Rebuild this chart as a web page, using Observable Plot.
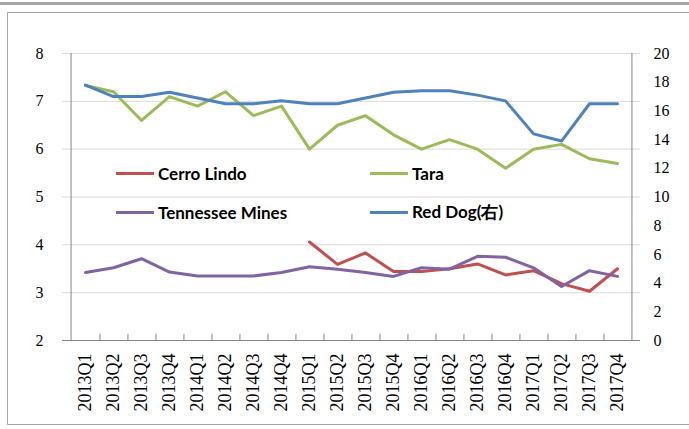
<!DOCTYPE html>
<html>
<head>
<meta charset="utf-8">
<script src="https://cdn.jsdelivr.net/npm/d3@7"></script>
<script src="https://cdn.jsdelivr.net/npm/@observablehq/plot@0.6"></script>
<style>
  body { margin: 0; background: #fff; }
  #wrap { position: relative; width: 689px; height: 429px; overflow: hidden; background: #fff; }
  #topbar { position: absolute; left: 0; top: 2px; width: 689px; height: 3px; background: #a6a6a6; }
  #box { position: absolute; left: 7px; top: 12px; width: 700px; height: 411px; border: 1px solid #a6a6a6; }
  #chart { position: absolute; left: 0; top: 0; }
  #chart svg, #chart svg g, #chart svg text { font-family: "Liberation Serif", "Times New Roman", "DejaVu Serif", serif !important; }
  #legend { position: absolute; left: 116px; top: 163px; display: grid; grid-template-columns: 254px auto; grid-auto-rows: 39px;
            font-family: Lato, "Liberation Sans", sans-serif; font-weight: bold; font-size: 17px; color: #000; }
  .item { display: flex; align-items: center; height: 20px; }
  .sw { width: 38px; height: 3px; margin-right: 4px; }
</style>
</head>
<body>
<div id="wrap">
  <div id="topbar"></div>
  <div id="box"></div>
  <div id="chart"></div>
  <div id="legend"></div>
</div>
<script>
const quarters = ["2013Q1","2013Q2","2013Q3","2013Q4","2014Q1","2014Q2","2014Q3","2014Q4",
                  "2015Q1","2015Q2","2015Q3","2015Q4","2016Q1","2016Q2","2016Q3","2016Q4",
                  "2017Q1","2017Q2","2017Q3","2017Q4"];
const cerroLindo = [null,null,null,null,null,null,null,null,4.06,3.59,3.83,3.44,3.44,3.50,3.60,3.37,3.46,3.19,3.03,3.50];
const tara = [7.33,7.20,6.60,7.10,6.90,7.20,6.70,6.90,6.00,6.50,6.70,6.30,6.00,6.20,6.00,5.60,6.00,6.10,5.80,5.70];
const tennesseeMines = [3.42,3.52,3.71,3.43,3.35,3.35,3.35,3.42,3.54,3.49,3.42,3.34,3.52,3.49,3.76,3.74,3.52,3.13,3.46,3.34];
const redDog = [17.8,17.0,17.0,17.3,16.9,16.5,16.5,16.7,16.5,16.5,16.9,17.3,17.4,17.4,17.1,16.7,14.4,13.9,16.5,16.5];

const seriesNames = ["Cerro Lindo","Tara","Tennessee Mines","Red Dog(右)"];
const seriesColors = ["#C0504D","#9BBB59","#8064A2","#4F81BD"];
const leftTicks = [2,3,4,5,6,7,8];
const gridTicks = [3,4,5,6,7,8];
const rightTicks = [0,2,4,6,8,10,12,14,16,18,20];

// right axis [0,20] mapped onto left axis [2,8]
const leftDomain = [2,8], rightDomain = [0,20];
const toLeft = v => leftDomain[0] + (v - rightDomain[0]) * (leftDomain[1]-leftDomain[0]) / (rightDomain[1]-rightDomain[0]);
const fromLeft = v => rightDomain[0] + (v - leftDomain[0]) * (rightDomain[1]-rightDomain[0]) / (leftDomain[1]-leftDomain[0]);

const seriesValues = [cerroLindo, tara, tennesseeMines, redDog.map(toLeft)];
const rows = [];
seriesNames.forEach((s, i) => quarters.forEach((q, j) => rows.push({series: s, q, v: seriesValues[i][j]})));

const W = 689, H = 429, mL = 62, mR = 49, mT = 53, mB = 89;
const step = (W - mL - mR) / quarters.length;
const axisColor = "#868686";

const chart = Plot.plot({
  width: W, height: H,
  marginLeft: mL, marginRight: mR, marginTop: mT, marginBottom: mB,
  style: {background: "transparent", overflow: "visible", fontFamily: "Liberation Serif, serif"},
  x: {type: "point", domain: quarters, padding: 0.5},
  y: {domain: leftDomain},
  color: {domain: seriesNames, range: seriesColors},
  marks: [
    Plot.ruleY(gridTicks, {stroke: "#d9d9d9", strokeWidth: 1}),
    Plot.ruleX([quarters[0]], {x: d => d, dx: -step/2, stroke: axisColor}),
    Plot.ruleX([quarters[quarters.length-1]], {x: d => d, dx: step/2, stroke: axisColor}),
    Plot.ruleY([leftDomain[0]], {stroke: axisColor}),
    Plot.ruleX(quarters.slice(0, -1), {x: d => d, dx: step/2, y1: leftDomain[0], y2: leftDomain[0] + 0.13, stroke: axisColor}),
    Plot.axisY(leftTicks, {anchor: "left", tickSize: 0, tickPadding: 19, fontSize: 16, label: null, fill: "#000"}),
    Plot.axisY(rightTicks.map(toLeft), {anchor: "right", tickSize: 0, tickPadding: 13, fontSize: 16, label: null,
      tickFormat: d => String(Math.round(fromLeft(d))), fill: "#000"}),
    Plot.axisX({anchor: "bottom", tickSize: 0, tickPadding: 13, tickRotate: -90, fontSize: 18, label: null, fill: "#000"}),
    Plot.line(rows, {x: "q", y: "v", z: "series", stroke: "series", strokeWidth: 3, strokeLinejoin: "round", strokeLinecap: "round"})
  ]
});
document.getElementById("chart").appendChild(chart);

const legend = document.getElementById("legend");
const legendOrder = [0, 1, 2, 3];
legendOrder.forEach(i => {
  const it = document.createElement("div");
  it.className = "item";
  it.innerHTML = `<span class="sw" style="background:${seriesColors[i]}"></span><span>${seriesNames[i]}</span>`;
  legend.appendChild(it);
});
</script>
</body>
</html>
